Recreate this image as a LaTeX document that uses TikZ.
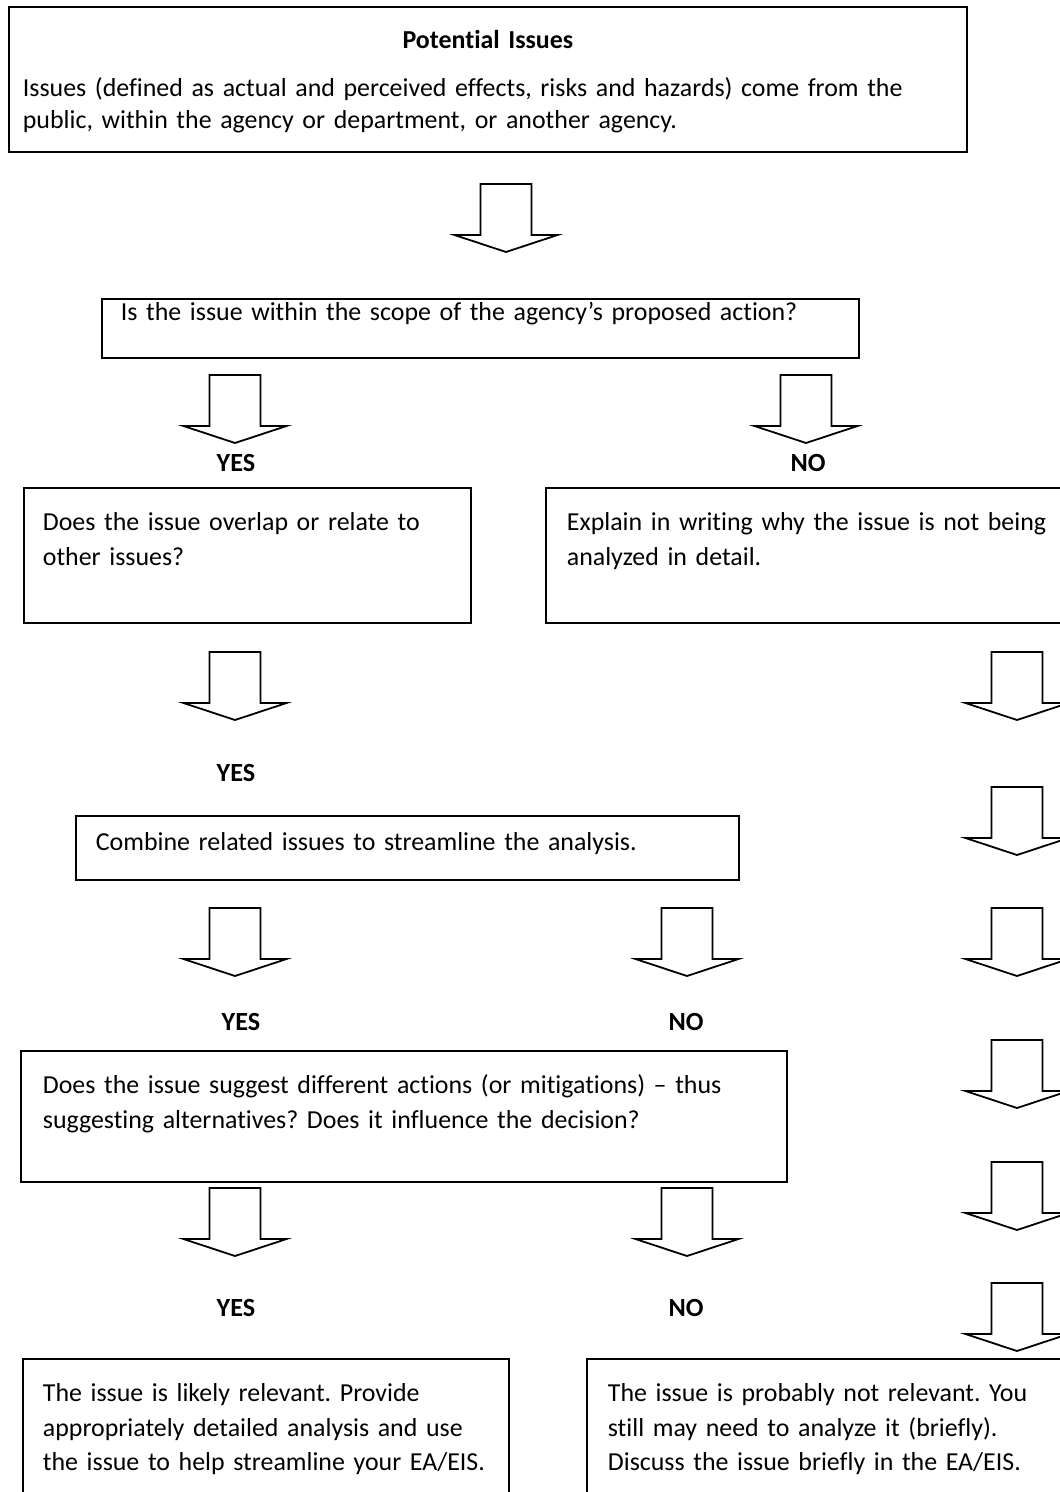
\documentclass[tikz,border=0pt]{standalone}
\usepackage{fontspec}
\setmainfont{Carlito}[Ligatures={NoCommon}]
\usepackage{tikz}
\usetikzlibrary{positioning,calc}
\frenchspacing

\tikzset{
  qbox/.style={draw, line width=1.8pt, anchor=north west, inner ysep=0pt, align=left,
    font=\fontsize{25.9}{34.5}\selectfont},
  answer/.style={font=\fontsize{26.2}{34.5}\selectfont\bfseries},
  blockdown/.pic={
    \draw[line width=1.8pt, line join=miter, fill=white]
      (-25.5,0) -- (25.5,0) -- (25.5,51) -- (51.5,51) -- (0,68)
      -- (-51.5,51) -- (-25.5,51) -- cycle;
  }
}

\begin{document}
\begin{tikzpicture}[x=1pt, y=-1pt]
  \useasboundingbox (0,0) rectangle (1060,1492);
  \clip (0,0) rectangle (1060,1492);
  \fill[white] (0,0) rectangle (1060,1492);

  % top box
  \node[qbox, inner xsep=14pt, text width=930pt, text height=42pt, text depth=103pt,
    font=\fontsize{25.9}{32}\selectfont] (potential) at (8,6)
    {\makebox[\linewidth]{\bfseries Potential Issues}\\[16pt]
     Issues (defined as actual and perceived effects, risks and hazards) come from the\\
     public, within the agency or department, or another agency.};
  \pic (a0) at (506,184) {blockdown};

  % scope question
  \node[qbox, inner xsep=19pt, text width=719pt, text height=22pt, text depth=37pt] (scope) at (101,298)
    {Is the issue within the scope of the agency’s proposed action?};
  \pic (a1) at (235,375) {blockdown};
  \pic (a2) at (806,375) {blockdown};
  \node[answer] (yes1) at (236,463) {YES};
  \node[answer] (no1) at (808,463) {NO};

  \node[qbox, inner xsep=19pt, text width=409pt, text height=43pt, text depth=92pt] (overlap) at (23,487)
    {Does the issue overlap or relate to\\ other issues?};
  \node[qbox, inner xsep=21pt, text width=498pt, text height=43pt, text depth=92pt] (explain) at (545,487)
    {Explain in writing why the issue is not being\\ analyzed in detail.};

  \pic (a3) at (235,652) {blockdown};
  \node[answer] (yes2) at (236,773) {YES};

  % right column
  \foreach \ty in {652,787,908,1040,1162,1283}
    \pic at (1017,\ty) {blockdown};

  \node[qbox, inner xsep=20pt, text width=623pt, text height=35pt, text depth=29pt] (combine) at (75,815)
    {Combine related issues to streamline the analysis.};
  \pic (a4) at (235,908) {blockdown};
  \pic (a5) at (687,908) {blockdown};
  \node[answer] (yes3) at (241,1022) {YES};
  \node[answer] (no3) at (686,1022) {NO};

  \node[qbox, inner xsep=22pt, text width=722pt, text height=43pt, text depth=88pt] (suggest) at (20,1050)
    {Does the issue suggest different actions (or mitigations) – thus\\
     suggesting alternatives? Does it influence the decision?};
  \pic (a6) at (235,1188) {blockdown};
  \pic (a7) at (687,1188) {blockdown};
  \node[answer] (yes4) at (236,1308) {YES};
  \node[answer] (no4) at (686,1308) {NO};

  % outcomes
  \node[qbox, inner xsep=20pt, text width=446pt, text height=43pt, text depth=157pt] (relevant) at (22,1358)
    {The issue is likely relevant. Provide\\
     appropriately detailed analysis and use\\
     the issue to help streamline your EA/EIS.};
  \node[qbox, inner xsep=21pt, text width=460pt, text height=43pt, text depth=157pt] (notrelevant) at (586,1358)
    {The issue is probably not relevant. You\\
     still may need to analyze it (briefly).\\
     Discuss the issue briefly in the EA/EIS.};
\end{tikzpicture}
\end{document}
